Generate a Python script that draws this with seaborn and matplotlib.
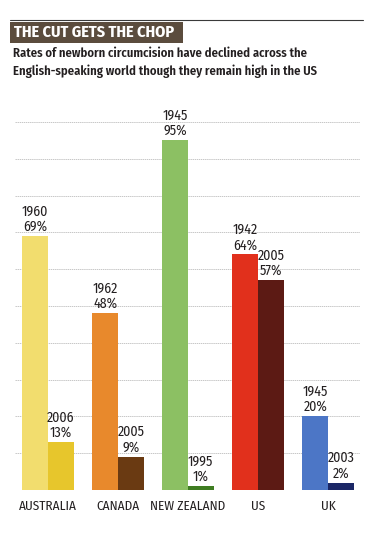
import matplotlib
matplotlib.use("Agg")
import matplotlib.pyplot as plt
import seaborn as sns
import pandas as pd
from matplotlib.patches import Rectangle
from matplotlib.lines import Line2D

countries = ["AUSTRALIA", "CANADA", "NEW ZEALAND", "US", "UK"]
early_years = ["1960", "1962", "1945", "1942", "1945"]
early_vals = [69, 48, 95, 64, 20]
late_years = ["2006", "2005", "1995", "2005", "2003"]
late_vals = [13, 9, 1, 57, 2]
early_colors = ["#f2dd6e", "#e8892c", "#8cc063", "#e1301c", "#4c76c6"]
late_colors = ["#e7c62c", "#6a3a12", "#3f7d22", "#5c1a14", "#1b2766"]

title = "THE CUT GETS THE CHOP"
subtitle = ("Rates of newborn circumcision have declined across the\n"
            "English-speaking world though they remain high in the US")

sns.set_theme(style="white")
FONT = ["Fira Sans Condensed", "DejaVu Sans"]
plt.rcParams["font.family"] = FONT

rows = []
for c, ey, ev, ly, lv in zip(countries, early_years, early_vals, late_years, late_vals):
    rows.append({"country": c, "period": "early", "value": ev, "year": ey})
    rows.append({"country": c, "period": "late", "value": lv, "year": ly})
df = pd.DataFrame(rows)

W, H = 373, 540
fig = plt.figure(figsize=(W / 100, H / 100), dpi=100)
fig.patch.set_facecolor("white")

left, right, top, bottom = 15, 360, 122, 490
ax = fig.add_axes([left / W, (H - bottom) / H, (right - left) / W, (bottom - top) / H])
ax.set_facecolor("white")

sns.barplot(data=df, x="country", y="value", hue="period", order=countries,
            hue_order=["early", "late"], width=0.73, dodge=True, legend=False,
            ax=ax, zorder=3, linewidth=0, saturation=1)

for cont, cols, years, vals in [(ax.containers[0], early_colors, early_years, early_vals),
                                (ax.containers[1], late_colors, late_years, late_vals)]:
    for bar, col, yr, v in zip(cont, cols, years, vals):
        bar.set_facecolor(col)
        bar.set_edgecolor("none")
        cx = bar.get_x() + bar.get_width() / 2
        ax.text(cx, bar.get_height() + 0.6, f"{yr}\n{v}%", ha="center", va="bottom",
                fontsize=10, color="#231f20", linespacing=1.1, zorder=4)

x0 = (left - 48) / 70
x1 = (right - 48) / 70
ax.set_xlim(x0, x1)
ax.set_ylim(0, 100)
ax.set_yticks(range(0, 101, 10))
ax.yaxis.grid(True, color="#b0b0b0", linestyle=(0, (2, 1)), linewidth=0.5, zorder=0)
ax.xaxis.grid(False)
ax.tick_params(axis="y", left=False, labelleft=False)
ax.tick_params(axis="x", bottom=False, pad=1, labelsize=9.5, colors="#231f20")
ax.set_xlabel("")
ax.set_ylabel("")
for s in ax.spines.values():
    s.set_visible(False)

# header
fig.add_artist(Line2D([10 / W, 363 / W], [1 - 20 / H, 1 - 20 / H], color="#3a3a3a",
                      linewidth=0.8, transform=fig.transFigure))
fig.add_artist(Rectangle((10 / W, 1 - 43 / H), 173 / W, 21 / H, facecolor="#5b4c3d",
                         edgecolor="none", transform=fig.transFigure))
fig.text(14 / W, 1 - 32.5 / H, title, ha="left", va="center", fontsize=11.6,
         fontweight="bold", color="white")
fig.text(13 / W, 1 - 47 / H, subtitle, ha="left", va="top", fontsize=9.1,
         fontweight="semibold", color="#231f20", linespacing=1.45)

fig.savefig("out.png", dpi=100, facecolor="white")
